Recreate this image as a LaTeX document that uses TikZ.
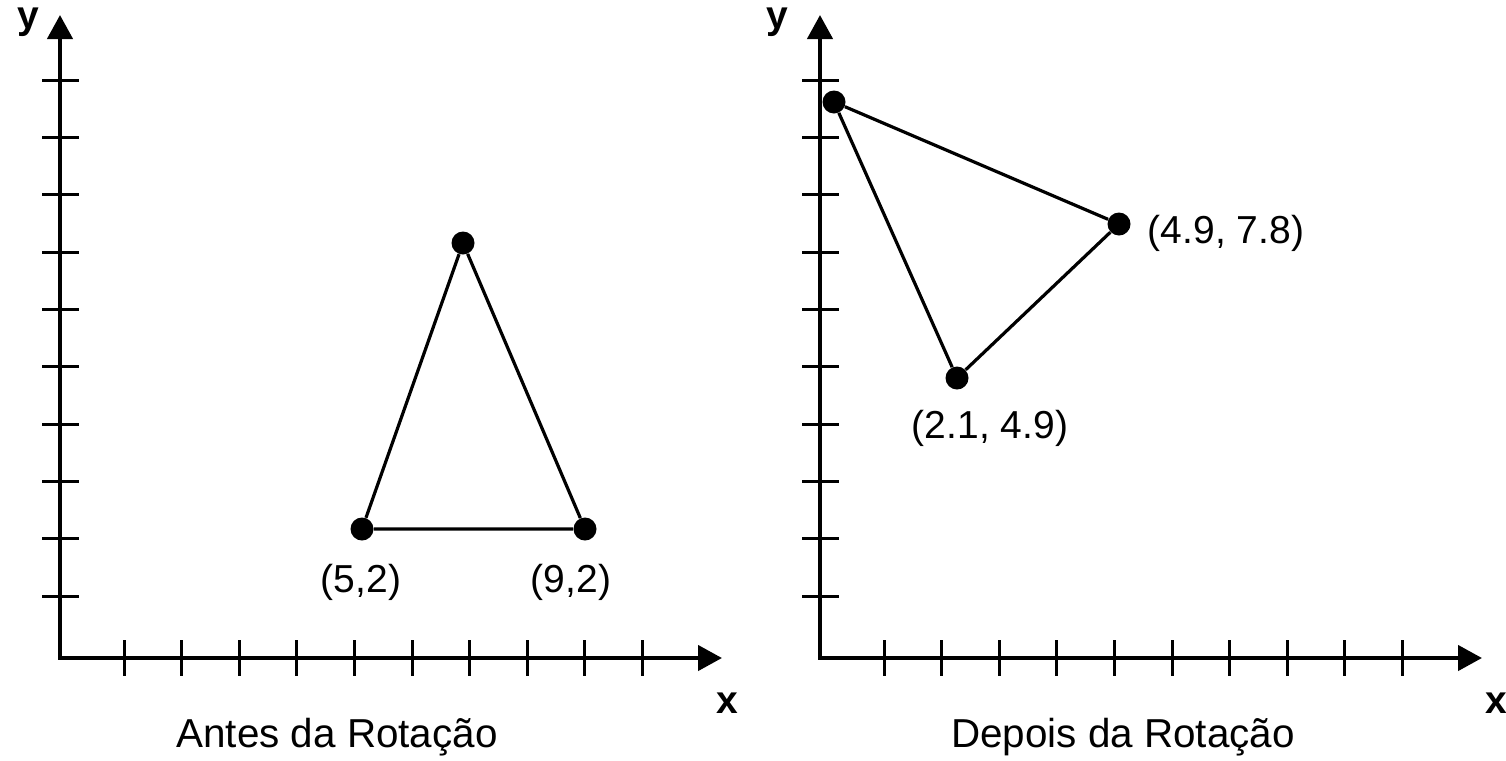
\documentclass[tikz,border=0pt]{standalone}
\usepackage{fontspec}
\setmainfont{Liberation Sans}
\usetikzlibrary{arrows.meta, positioning}

\tikzset{
    eixo/.style={line width=2.2pt, {Triangle[length=12pt, width=12.5pt]}-{Triangle[length=12pt, width=12.5pt]}},
    marca/.style={line width=1.5pt},
    lado/.style={line width=1.6pt},
    ponto/.style={circle, fill=black, inner sep=0pt, minimum size=11.5pt},
    rotulo/.style={font=\fontsize{19.5}{23}\selectfont, inner sep=0pt, anchor=base},
    titulo/.style={rotulo, font=\fontsize{20.2}{24}\selectfont},
    letra/.style={font=\bfseries\fontsize{19.5}{23}\selectfont, inner sep=0pt}
}

\begin{document}
\begin{tikzpicture}[x=0.5pt, y=-0.5pt]
    \useasboundingbox (0,0) rectangle (1506,761);

    % --- eixos (antes) ---
    \coordinate (O1) at (60,658);
    \coordinate (Y1) at (60,15);
    \coordinate (X1) at (722,658);
    \draw[eixo] (Y1) -- (O1) -- (X1);
    \node[letra] (y1) at (28,22) {y};
    \node[letra] (x1) at (727,703) {x};

    % --- eixos (depois) ---
    \coordinate (O2) at (820,658);
    \coordinate (Y2) at (820,15);
    \coordinate (X2) at (1482,658);
    \draw[eixo] (Y2) -- (O2) -- (X2);
    \node[letra] (y2) at (777,22) {y};
    \node[letra] (x2) at (1496,703) {x};

    % --- marcas ---
    \foreach \i in {0,...,9} {
        \draw[marca] ({124+57.6*\i},640) -- ++(0,36);
        \draw[marca] ({884+57.6*\i},640) -- ++(0,36);
        \draw[marca] (42,{596-57.3*\i}) -- ++(37,0);
        \draw[marca] (802,{596-57.3*\i}) -- ++(37,0);
    }

    % --- triangulo antes ---
    \node[ponto] (A) at (362,529) {};
    \node[ponto] (B) at (585,529) {};
    \node[ponto] (C) at (463,243) {};
    \draw[lado] (A) -- (B) -- (C) -- (A);
    \node[rotulo] (lA) at (361,592) {(5,2)};
    \node[rotulo] (lB) at (571,592) {(9,2)};

    % --- triangulo depois ---
    \node[ponto] (D) at (834,102) {};
    \node[ponto] (E) at (1119,224) {};
    \node[ponto] (F) at (957,378) {};
    \draw[lado] (D) -- (E) -- (F) -- (D);
    \node[rotulo] (lE) at (1226,243) {(4.9, 7.8)};
    \node[rotulo] (lF) at (990,438) {(2.1, 4.9)};

    % --- titulos ---
    \node[titulo] (t1) at (337,747) {Antes da Rotação};
    \node[titulo] (t2) at (1123,747) {Depois da Rotação};
\end{tikzpicture}
\end{document}
